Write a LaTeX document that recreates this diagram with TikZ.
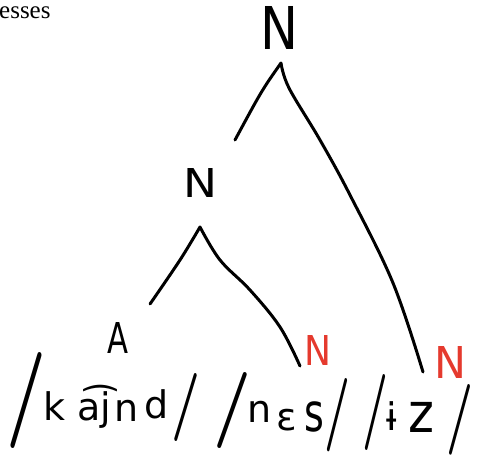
\documentclass[tikz,border=0pt]{standalone}
\usepackage{fontspec}
\newfontfamily\capfont{Liberation Serif}
\newfontfamily\hand{DejaVu Sans}
\usepackage{graphicx}
\definecolor{hred}{HTML}{E53A2E}
\begin{document}
\begin{tikzpicture}[x=1pt,y=-1pt,
  lbl/.style={inner sep=0pt,outer sep=0pt,font=\hand},
  ipa/.style={inner sep=0pt,outer sep=0pt,anchor=base,font=\hand\fontsize{38}{38}\selectfont},
  slashmark/.style={inner sep=0pt,outer sep=0pt,font=\rmfamily\bfseries},
  branch/.style={line width=3pt,line cap=round,line join=round}]
\useasboundingbox (0,0) rectangle (482,455);
% cropped caption text
\node[inner sep=0pt,anchor=base west,font=\capfont\fontsize{25}{25}\selectfont] (cap) at (-1,18) {esses};
% tree labels
\node[lbl] (Ntop) at (279,28) {\resizebox{38pt}{43pt}{N}};
\node[lbl] (Nmid) at (200,183) {\resizebox{34pt}{29pt}{N}};
\node[lbl] (Aleft) at (118,338) {\resizebox{21pt}{31pt}{A}};
\node[lbl,text=hred] (Nr1) at (318,350) {\resizebox{27pt}{30pt}{N}};
\node[lbl,text=hred] (Nr2) at (450,362) {\resizebox{32pt}{32pt}{N}};
% branch points
\coordinate (apT) at (281,63);
\coordinate (tl) at (235,140);
\coordinate (t1) at (289,88);
\coordinate (t2) at (320,140);
\coordinate (t3) at (350,195);
\coordinate (t4) at (393,283);
\coordinate (tr) at (423,372);
\coordinate (apM) at (200,227);
\coordinate (ml1) at (180,260);
\coordinate (ml) at (150,304);
\coordinate (mr1) at (220,260);
\coordinate (mr2) at (250,290);
\coordinate (mr3) at (280,327);
\coordinate (mr) at (300,366);
\draw[branch] (apT) .. controls (262,90) .. (tl);
\draw[branch] plot[smooth,tension=0.6] coordinates {(apT) (t1) (t2) (t3) (t4) (tr)};
\draw[branch] plot[smooth,tension=0.6] coordinates {(apM) (ml1) (ml)};
\draw[branch] plot[smooth,tension=0.6] coordinates {(apM) (mr1) (mr2) (mr3) (mr)};
% transcription
\node[slashmark] (s1) at (26,400) {\resizebox{40pt}{72pt}{/}};
\node[ipa] (k1) at (55,420) {k};
\node[ipa] (aj) at (94,420) {a͡j};
\node[ipa] (n1) at (127,421) {n};
\node[ipa] (d1) at (157,418) {d};
\node[slashmark] (s2) at (186,407) {\resizebox{29pt}{51pt}{/}};
\node[slashmark] (s3) at (232,410) {\resizebox{38pt}{57pt}{/}};
\node[ipa] (n2) at (260,422) {n};
\node[ipa] (e2) at (287,430) {ɛ};
\node[ipa] (s2l) at (314,431) {\scalebox{1}[1.4]{s}};
\node[slashmark] (s4) at (337,415) {\resizebox{26pt}{55pt}{/}};
\node[slashmark] (s5) at (375,412) {\resizebox{26pt}{57pt}{/}};
\node[ipa] (i3) at (392,430) {ɨ};
\node[ipa] (z3) at (421,432) {\scalebox{1.3}[1.45]{z}};
\node[slashmark] (s6) at (460,420) {\resizebox{27pt}{53pt}{/}};
\end{tikzpicture}
\end{document}
